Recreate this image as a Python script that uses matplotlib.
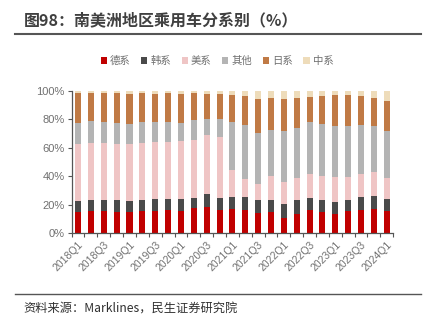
import matplotlib.pyplot as plt
import numpy as np

plt.rcParams["font.family"] = ["Noto Sans CJK SC", "DejaVu Sans"]

quarters = [f"{y}Q{q}" for y in range(2018, 2025) for q in range(1, 5)][:25]

german = [15.0, 15.3, 15.3, 15.0, 14.6, 15.3, 15.7, 16.0, 15.7, 17.4, 18.5, 16.2, 16.9,
          16.0, 13.8, 14.6, 10.8, 13.1, 16.0, 14.8, 13.6, 15.7, 16.4, 16.7, 15.7]
korean = [7.8, 7.9, 8.2, 8.5, 7.9, 8.2, 8.5, 7.7, 8.5, 7.5, 9.0, 8.4, 8.7,
          9.1, 9.7, 8.9, 9.4, 9.9, 8.6, 8.4, 8.0, 7.8, 8.7, 9.1, 8.2]
american = [39.9, 40.2, 39.6, 39.4, 40.2, 39.9, 39.9, 40.4, 40.8, 40.6, 41.7, 43.0, 19.0,
            13.2, 11.0, 16.9, 15.7, 15.7, 16.9, 16.9, 17.8, 16.2, 16.4, 17.2, 15.1]
others = [15.0, 15.2, 15.1, 14.8, 14.3, 14.5, 13.8, 14.3, 12.7, 14.3, 11.3, 12.4, 33.6,
          37.8, 36.2, 32.1, 36.2, 35.0, 36.7, 36.7, 36.0, 35.7, 34.6, 32.6, 32.8]
japanese = [21.1, 20.2, 20.2, 20.7, 21.1, 20.7, 20.2, 20.0, 20.0, 18.8, 17.6, 17.7, 19.2,
            20.6, 23.9, 22.8, 22.0, 21.6, 17.8, 19.7, 21.5, 21.8, 20.4, 19.2, 21.2]
chinese = [1.2, 1.2, 1.6, 1.6, 1.9, 1.4, 1.9, 1.6, 2.3, 1.4, 1.9, 2.3, 2.6,
           3.3, 5.4, 4.7, 5.9, 4.7, 4.0, 3.5, 3.1, 2.8, 3.5, 5.2, 7.0]

series = [
    ("德系", german, "#C00000"),
    ("韩系", korean, "#4A4A4A"),
    ("美系", american, "#EFC5C5"),
    ("其他", others, "#B4B4B4"),
    ("日系", japanese, "#C07A45"),
    ("中系", chinese, "#EEDCBA"),
]

fig = plt.figure(figsize=(4.34, 3.27), dpi=100)
ax = fig.add_axes([0.165, 0.2875, 0.741, 0.4342])

x = np.arange(len(quarters))
bottom = np.zeros(len(quarters))
for name, vals, color in series:
    ax.bar(x, vals, width=0.47, bottom=bottom, color=color, label=name)
    bottom += np.array(vals)

num_font = ["Liberation Sans", "DejaVu Sans"]
ax.set_xlim(-0.5, len(quarters) - 0.5)
ax.set_ylim(0, 100)
ax.set_yticks(range(0, 101, 20))
ax.set_yticklabels([f"{v}%" for v in range(0, 101, 20)], fontsize=8, color="#707070",
                   family=num_font)
ax.set_xticks(x[::2])
ax.set_xticklabels(quarters[::2], rotation=45, ha="right", rotation_mode="anchor",
                   fontsize=7.5, color="#707070", family=num_font)
ax.set_xticks(np.arange(-0.5, len(quarters), 1), minor=True)
ax.tick_params(axis="x", which="major", length=0, pad=5)
ax.tick_params(axis="x", which="minor", length=3, color="#555555", width=0.8)
ax.tick_params(axis="y", length=3, color="#555555", width=0.8, pad=2)
for side in ("top", "right"):
    ax.spines[side].set_visible(False)
for side in ("left", "bottom"):
    ax.spines[side].set_color("#555555")
    ax.spines[side].set_linewidth(0.9)

leg = fig.legend(loc="center", bbox_to_anchor=(0.5, 0.813), ncol=6, frameon=False,
                 fontsize=7.5, handlelength=0.6, handleheight=0.6, handletextpad=0.3,
                 columnspacing=1.0)
for t in leg.get_texts():
    t.set_color("#707070")

fig.text(0.055, 0.938, "图98：南美洲地区乘用车分系别（%）", fontsize=11.5, fontweight="bold",
         color="#404040", va="center")
fig.add_artist(plt.Line2D([0.035, 0.97], [0.897, 0.897], color="#555555", lw=1.5))
fig.add_artist(plt.Line2D([0.035, 0.97], [0.101, 0.101], color="#555555", lw=1.0))
fig.text(0.055, 0.055, "资料来源：Marklines，民生证券研究院", fontsize=8.8, color="#303030",
         va="center")

fig.savefig("out.png", dpi=100)
